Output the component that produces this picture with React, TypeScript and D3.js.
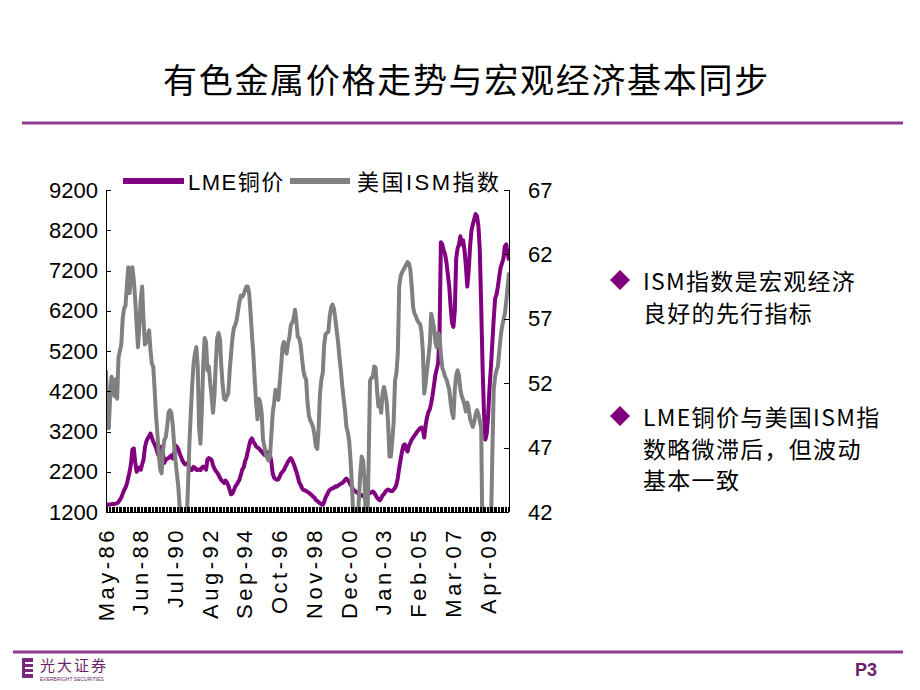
import React from 'react';
import * as d3 from 'd3';

const xLabels = ['May-86', 'Jun-88', 'Jul-90', 'Aug-92', 'Sep-94', 'Oct-96', 'Nov-98', 'Dec-00', 'Jan-03', 'Feb-05', 'Mar-07', 'Apr-09'];
const labelStep = 25;
const leftTicks = [1200, 2200, 3200, 4200, 5200, 6200, 7200, 8200, 9200];
const rightTicks = [42, 47, 52, 57, 62, 67];

// LME copper price, monthly from May-86
const lmeCopper = [
  1400, 1380, 1380, 1390, 1390, 1400, 1400, 1410, 1420, 1450,
  1500, 1560, 1650, 1740, 1800, 1900, 2050, 2200, 2400, 2750,
  2780, 2450, 2200, 2250, 2300, 2250, 2380, 2500, 2800, 2950,
  3030, 3080, 3150, 3050, 2950, 2880, 2800, 2680, 2580, 2700,
  2820, 2650, 2420, 2500, 2520, 2540, 2570, 2610, 2530, 2650,
  2850, 2820, 2760, 2650, 2570, 2480, 2420, 2380, 2400, 2420,
  2300, 2240, 2250, 2320, 2300, 2250, 2240, 2260, 2240, 2300,
  2330, 2300, 2250, 2500, 2540, 2520, 2490, 2360, 2280, 2220,
  2180, 2120, 2050, 1990, 1960, 1920, 1980, 1940, 1860, 1750,
  1640, 1660, 1740, 1830, 1880, 1940, 2000, 2120, 2250, 2300,
  2450, 2540, 2700, 2850, 2980, 3030, 2950, 2900, 2830, 2800,
  2780, 2740, 2700, 2660, 2620, 2650, 2690, 2660, 2620, 2450,
  2150, 2050, 2020, 2000, 2010, 2080, 2160, 2200, 2240, 2320,
  2380, 2450, 2500, 2540, 2480, 2400, 2300, 2200, 2080, 1940,
  1880, 1800, 1750, 1740, 1720, 1700, 1680, 1650, 1620, 1580,
  1560, 1500, 1480, 1440, 1420, 1390, 1380, 1450, 1560, 1620,
  1700, 1750, 1770, 1790, 1800, 1840, 1830, 1860, 1880, 1900,
  1920, 1950, 2000, 2030, 1990, 1940, 1880, 1810, 1760, 1720,
  1700, 1680, 1640, 1620, 1620, 1590, 1580, 1590, 1620, 1660,
  1670, 1690, 1710, 1680, 1620, 1560, 1520, 1490, 1540, 1610,
  1640, 1700, 1740, 1760, 1740, 1720, 1720, 1760, 1800, 1880,
  2050, 2300, 2500, 2700, 2850, 2880, 2760, 2700, 2850, 2920,
  3000, 3050, 3100, 3150, 3200, 3240, 3280, 3300, 3250, 3050,
  3350, 3550, 3680, 3750, 3900, 4100, 4350, 4600, 4750, 4900,
  5600, 7900, 7850, 7700, 7600, 7400, 7100, 6800, 6300, 5900,
  5800, 6200, 7500, 7750, 7850, 8050, 7850, 7950, 7700, 7300,
  6800, 7200, 7800, 8200, 8350, 8480, 8600, 8550, 8300, 7700,
  6300, 4800, 3650, 3000, 3150, 3600, 4300, 4800, 5400, 6000,
  6500, 6600, 6800, 7050, 7280, 7380, 7500, 7800, 7850, 7620, 7450,
];

// US ISM index, monthly from May-86
const ismIndex = [
  53.0, 50.0, 48.5, 51.0, 52.5, 52.0, 51.0, 52.3, 50.8, 54.0,
  54.5, 55.0, 57.0, 57.8, 58.0, 59.5, 61.0, 59.0, 60.8, 61.0,
  60.0, 58.5, 56.6, 54.8, 56.5, 58.5, 59.5, 56.9, 55.0, 55.2,
  55.6, 56.1, 54.6, 53.5, 53.3, 51.5, 49.5, 48.0, 46.5, 45.3,
  45.0, 46.8, 47.6, 47.8, 48.6, 49.7, 49.9, 49.7, 48.8, 47.3,
  46.0, 45.0, 44.0, 42.4, 40.5, 39.5, 39.2, 39.8, 41.0, 44.0,
  47.3, 49.6, 51.8, 53.5, 54.3, 54.8, 53.3, 48.5, 47.3, 50.0,
  53.5, 55.5, 55.2, 53.0, 53.3, 52.0, 51.0, 49.7, 51.0, 53.5,
  55.5, 55.9, 55.4, 53.3, 51.8, 50.8, 50.7, 51.0, 51.2, 53.0,
  54.3, 55.5, 56.3, 56.5, 56.9, 57.6, 58.3, 58.8, 58.7, 58.9,
  59.2, 59.5, 59.5, 59.0, 57.5, 55.8, 54.3, 52.3, 50.5, 49.2,
  50.8, 50.5, 49.7, 47.6, 47.1, 46.5, 46.2, 46.0, 46.3, 48.0,
  49.7, 50.5, 51.5, 51.0, 50.7, 52.0, 53.3, 54.8, 55.2, 54.6,
  54.3, 55.1, 55.6, 56.5, 56.7, 57.0, 57.7, 56.8, 55.6, 55.5,
  55.0, 54.0, 53.0, 52.5, 52.3, 50.5, 49.5, 49.1, 48.9, 48.6,
  48.0, 47.1, 46.9, 48.5, 51.2, 52.3, 52.8, 55.0, 55.8, 55.9,
  56.0, 57.2, 57.9, 58.1, 57.8, 57.0, 56.1, 55.2, 54.0, 53.0,
  51.8, 50.8, 49.9, 48.6, 48.2, 47.5, 46.0, 44.0, 41.5, 40.5,
  40.8, 41.3, 43.0, 45.0, 46.3, 46.0, 44.5, 41.0, 40.5, 46.0,
  52.2, 52.4, 52.5, 53.3, 53.2, 51.5, 50.2, 50.7, 49.7, 51.2,
  51.7, 51.2, 50.5, 48.9, 46.3, 46.3, 47.5, 49.0, 52.2, 52.8,
  54.3, 59.5, 60.3, 60.6, 60.8, 61.0, 61.2, 61.4, 61.3, 60.8,
  59.5, 57.9, 57.4, 57.2, 56.9, 56.7, 56.6, 56.0, 54.5, 51.2,
  52.0, 53.0, 54.0, 55.0, 57.4, 56.9, 56.3, 55.2, 54.8, 55.9,
  55.6, 54.2, 53.2, 52.9, 52.5, 52.3, 51.9, 51.5, 50.5, 49.7,
  49.3, 51.5, 52.6, 53.0, 52.6, 51.5, 51.0, 50.7, 50.3, 49.8,
  50.5, 50.0, 49.2, 48.9, 48.6, 49.0, 49.6, 49.9, 49.6, 49.1,
  48.5, 38.9, 36.2, 33.0, 35.6, 35.8, 36.3, 40.5, 46.5, 51.5,
  52.5, 53.0, 53.3, 54.5, 55.6, 56.4, 56.9, 57.4, 58.3, 59.5, 60.6,
];

const bullet1 = ['ISM指数是宏观经济', '良好的先行指标'];
const bullet2 = ['LME铜价与美国ISM指', '数略微滞后，但波动', '基本一致'];

const PURPLE = '#800080';
const GRAY = '#808080';
const LINE_PURPLE = '#8e3a8e';
const CJK = '"Noto Sans CJK SC", "Noto Sans", sans-serif';
const CHART_FONT = '"Liberation Sans", Arial, "Noto Sans CJK SC", sans-serif';

export default function App() {
  const left = 106, right = 509, top = 190, bottom = 512;
  const n = lmeCopper.length;
  const x = d3.scaleLinear().domain([0, n - 1]).range([left, right]);
  const yL = d3.scaleLinear().domain([1200, 9200]).range([bottom, top]);
  const yR = d3.scaleLinear().domain([42, 67]).range([bottom, top]);
  const lineL = d3.line<number>().x((_, i) => x(i)).y((d) => yL(d));
  const lineR = d3.line<number>().x((_, i) => x(i)).y((d) => yR(d));

  const tickIdx = d3.range(n);
  const labelIdx = xLabels.map((_, i) => i * labelStep);

  return (
    <svg width={920} height={690} style={{ position: 'absolute', left: 0, top: 0, background: '#fff' }}>
      <rect x={0} y={0} width={920} height={690} fill="#fff" />
      {/* Title */}
      <text x={163} y={78} dominantBaseline="central" fontFamily={CJK} fontSize={34} letterSpacing={1.7} fill="#000">
        有色金属价格走势与宏观经济基本同步
      </text>
      <line x1={22} x2={903} y1={123} y2={123} stroke={LINE_PURPLE} strokeWidth={3} />

      {/* Legend */}
      <line x1={123} x2={184} y1={181} y2={181} stroke={PURPLE} strokeWidth={6} />
      <text x={188} y={182} dominantBaseline="central" fontFamily={CHART_FONT} fontSize={22} letterSpacing={1.5}>LME铜价</text>
      <line x1={290} x2={350} y1={181} y2={181} stroke={GRAY} strokeWidth={6} />
      <text x={357} y={182} dominantBaseline="central" fontFamily={CHART_FONT} fontSize={22} letterSpacing={2.5}>美国ISM指数</text>

      {/* Plot clip */}
      <defs>
        <clipPath id="plotClip">
          <rect x={left} y={top - 5} width={right - left} height={bottom - top + 5} />
        </clipPath>
      </defs>

      {/* Series */}
      <g clipPath="url(#plotClip)">
        <path d={lineL(lmeCopper) || ''} fill="none" stroke={PURPLE} strokeWidth={4} strokeLinejoin="round" />
        <path d={lineR(ismIndex) || ''} fill="none" stroke={GRAY} strokeWidth={4} strokeLinejoin="round" />
      </g>

      {/* Axes */}
      <g shapeRendering="crispEdges" stroke="#000" strokeWidth={1}>
        <line x1={left} x2={left} y1={top} y2={bottom} />
        <line x1={right} x2={right} y1={top} y2={bottom} />
        <line x1={left} x2={right} y1={bottom} y2={bottom} />
        {leftTicks.map((t) => (
          <line key={'l' + t} x1={left} x2={left + 5} y1={Math.round(yL(t))} y2={Math.round(yL(t))} />
        ))}
        {rightTicks.map((t) => (
          <line key={'r' + t} x1={right - 5} x2={right} y1={Math.round(yR(t))} y2={Math.round(yR(t))} />
        ))}
        {tickIdx.map((i) => (
          <line key={'x' + i} x1={Math.round(x(i)) + 0.5} x2={Math.round(x(i)) + 0.5} y1={bottom} y2={bottom - 5} />
        ))}
      </g>

      {/* Left tick labels */}
      {leftTicks.map((t) => (
        <text key={'lt' + t} x={98} y={yL(t)} textAnchor="end" dominantBaseline="central" fontFamily={CHART_FONT} fontSize={22}>
          {t}
        </text>
      ))}
      {/* Right tick labels */}
      {rightTicks.map((t) => (
        <text key={'rt' + t} x={528} y={yR(t)} textAnchor="start" dominantBaseline="central" fontFamily={CHART_FONT} fontSize={22}>
          {t}
        </text>
      ))}
      {/* X labels */}
      {labelIdx.map((idx, i) => (
        <text
          key={'xl' + i}
          transform={`translate(${x(idx)},${527}) rotate(-90)`}
          textAnchor="end"
          dominantBaseline="central"
          fontFamily={CHART_FONT}
          fontSize={22}
          letterSpacing={3.5}
        >
          {xLabels[i]}
        </text>
      ))}

      {/* Right side bullets */}
      {[{ lines: bullet1, y0: 280 }, { lines: bullet2, y0: 416 }].map((b, bi) => (
        <g key={'b' + bi}>
          <path d={`M620,${b.y0 - 10} L630,${b.y0} L620,${b.y0 + 10} L610,${b.y0} Z`} fill={PURPLE} />
          {b.lines.map((ln, li) => (
            <text key={li} x={643} y={b.y0 + li * 31.5} dominantBaseline="central" fontFamily={CJK} fontSize={23} letterSpacing={1.3} fill="#000">
              {ln}
            </text>
          ))}
        </g>
      ))}

      {/* Footer */}
      <line x1={13} x2={903} y1={652} y2={652} stroke={LINE_PURPLE} strokeWidth={3} />
      <g>
        <rect x={22} y={658} width={11} height={20} fill="#7a2a7a" />
        <rect x={25} y={662} width={8} height={2} fill="#fff" />
        <rect x={25} y={667} width={8} height={2} fill="#fff" />
        <rect x={25} y={672} width={8} height={2} fill="#fff" />
        <text x={40} y={671} fontFamily={CJK} fontSize={15} fill="#6b1f6b" letterSpacing={2}>光大证券</text>
        <text x={40} y={681} fontFamily={CHART_FONT} fontSize={5} fill="#6b1f6b">EVERBRIGHT SECURITIES</text>
      </g>
      <text x={855} y={676} fontFamily={CHART_FONT} fontSize={18} fontWeight="bold" fill="#6a1a6a">P3</text>
    </svg>
  );
}
